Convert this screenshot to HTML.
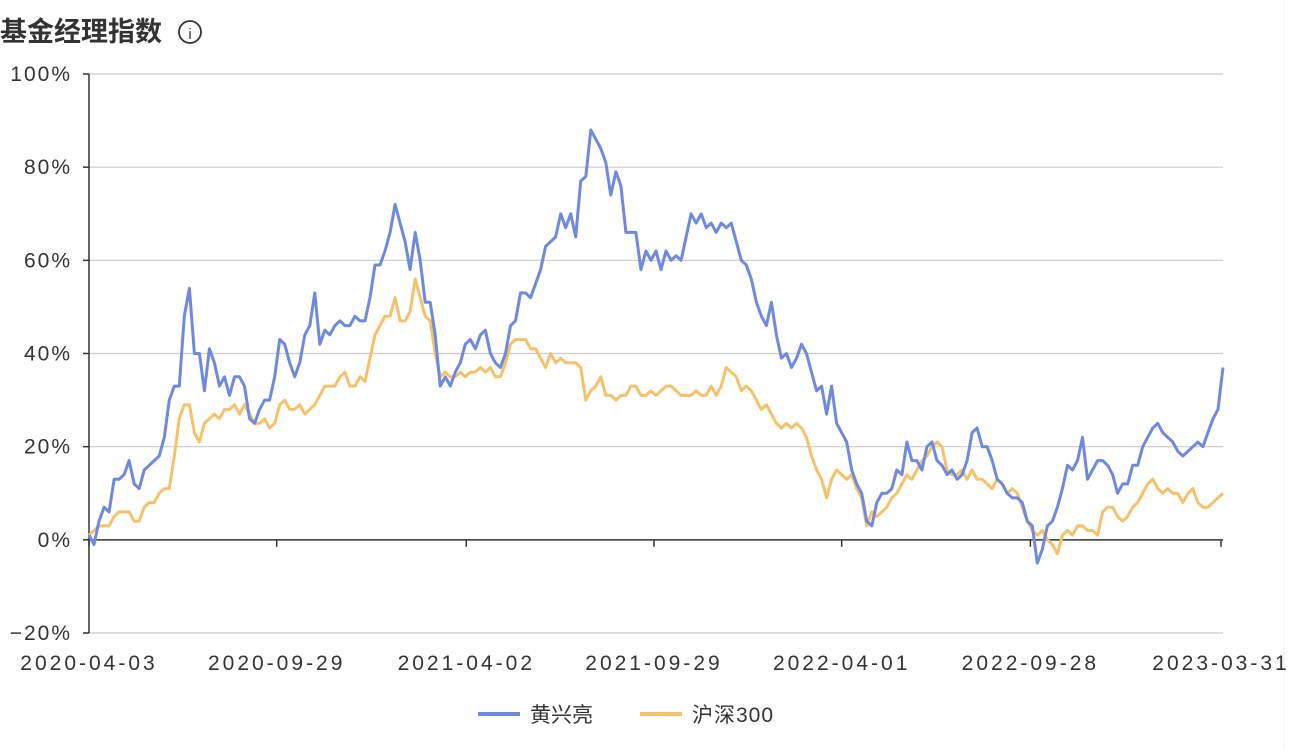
<!DOCTYPE html>
<html><head><meta charset="utf-8">
<style>
body{margin:0;width:1298px;height:748px;background:#fff;overflow:hidden;font-family:"Liberation Sans","Noto Sans CJK SC",sans-serif;}
</style></head>
<body>
<svg id="c" width="1298" height="748" xmlns="http://www.w3.org/2000/svg">
<text x="0" y="41" font-size="27" font-weight="bold" fill="#333" font-family="Liberation Sans, Noto Sans CJK SC, sans-serif">基金经理指数</text>
<g><circle cx="190" cy="32" r="11" fill="none" stroke="#333" stroke-width="1.8"/><text x="190" y="39" font-size="15" text-anchor="middle" fill="#333">i</text></g>
<line x1="1284" y1="0" x2="1284" y2="748" stroke="#eee"/>
<g id="grid"></g><g id="axes"></g><g id="series"></g>
<g>
<g><line x1="478" y1="714" x2="520" y2="714" stroke="#7089e0" stroke-width="4"/><text x="530" y="722" font-size="21" fill="#333">黄兴亮</text></g>
<g><line x1="640" y1="714" x2="682" y2="714" stroke="#f5c26b" stroke-width="4"/><text x="692" y="722" font-size="21" letter-spacing="1" fill="#333">沪深300</text></g>
</g>
</svg>
<script>
const yTicks=[100,80,60,40,20,0,-20];
const xTickLabels=["2020-04-03","2020-09-29","2021-04-02","2021-09-29","2022-04-01","2022-09-28","2023-03-31"];
const xTickFrac=[0,0.1658,0.3333,0.4991,0.6649,0.8316,1];
const huang=[1,-1,4,7,6,13,13,14,17,12,11,15,16,17,18,22,30,33,33,48,54,40,40,32,41,38,33,35,31,35,35,33,26,25,28,30,30,35,43,42,38,35,38,44,46,53,42,45,44,46,47,46,46,48,47,47,52,59,59,62,66,72,68,64,58,66,60,51,51,44,33,35,33,36,38,42,43,41,44,45,40,38,37,40,46,47,53,53,52,55,58,63,64,65,70,67,70,65,77,78,88,86,84,81,74,79,76,66,66,66,58,62,60,62,58,62,60,61,60,65,70,68,70,67,68,66,68,67,68,64,60,59,56,51,48,46,51,44,39,40,37,39,42,40,36,32,33,27,33,25,23,21,15,12,10,4,3,8,10,10,11,15,14,21,17,17,15,20,21,17,16,14,15,13,14,17,23,24,20,20,17,13,12,10,9,9,8,4,3,-5,-2,3,4,7,11,16,15,17,22,13,15,17,17,16,14,10,12,12,16,16,20,22,24,25,23,22,21,19,18,19,20,21,20,23,26,28,37];
const csi300=[1,2,3,3,3,5,6,6,6,4,4,7,8,8,10,11,11,18,26,29,29,23,21,25,26,27,26,28,28,29,27,29,27,25,25,26,24,25,29,30,28,28,29,27,28,29,31,33,33,33,35,36,33,33,35,34,39,44,46,48,48,52,47,47,49,56,52,48,47,40,35,36,35,35,36,35,36,36,37,36,37,35,35,38,42,43,43,43,41,41,39,37,40,38,39,38,38,38,37,30,32,33,35,31,31,30,31,31,33,33,31,31,32,31,32,33,33,32,31,31,31,32,31,31,33,31,33,37,36,35,32,33,32,30,28,29,27,25,24,25,24,25,24,22,18,15,13,9,13,15,14,13,14,11,9,3,6,5,6,7,9,10,12,14,13,15,17,18,20,21,20,15,14,14,15,13,15,13,13,12,11,13,12,10,11,10,7,4,2,1,2,0,-1,-3,1,2,1,3,3,2,2,1,6,7,7,5,4,5,7,8,10,12,13,11,10,11,10,10,8,10,11,8,7,7,8,9,10];
const NS="http://www.w3.org/2000/svg";
const X0=89,X1=1223,Ytop=74,Ybot=633;
const yS=v=>Ytop+(100-v)/120*(Ybot-Ytop);
const xS=(i,n)=>X0+i/(n-1)*(X1-X0);
function mk(t,a,p){const e=document.createElementNS(NS,t);for(const k in a)e.setAttribute(k,a[k]);p.appendChild(e);return e;}
const grid=document.getElementById('grid'),axes=document.getElementById('axes'),ser=document.getElementById('series');
yTicks.forEach(v=>{
 const y=yS(v);
 if(v!==0){const g=mk('line',{x1:X0,x2:X1,y1:y,y2:y,stroke:'#ccc','stroke-width':1.2},grid);
 
 }
 mk('line',{x1:X0-6,x2:X0,y1:y,y2:y,stroke:'#333','stroke-width':1.5},axes);
 const t=mk('text',{x:72,y:y+7,'font-size':21,'letter-spacing':2,'text-anchor':'end',fill:'#333'},axes);
 t.textContent=(v<0?'\u2212'+(-v):v)+'%';
 
 
});
const ya=mk('line',{x1:X0,x2:X0,y1:Ytop,y2:Ybot,stroke:'#333','stroke-width':1.5},axes);


const y0=yS(0);
const xa=mk('line',{x1:X0,x2:X1,y1:y0,y2:y0,stroke:'#333','stroke-width':1.5},axes);


xTickLabels.forEach((l,i)=>{
 const x=X0+xTickFrac[i]*(X1-X0-2);
 mk('line',{x1:x,x2:x,y1:y0,y2:y0+7,stroke:'#333','stroke-width':1.5},axes);
 const t=mk('text',{x:x,y:670,'font-size':21,'letter-spacing':3,'text-anchor':'middle',fill:'#333'},axes);
 t.textContent=l;
 
 
});
function line(d,c,name){
 const pts=d.map((v,i)=>xS(i,d.length).toFixed(1)+','+yS(v).toFixed(1)).join(' ');
 const p=mk('polyline',{points:pts,fill:'none',stroke:c,'stroke-width':3,'stroke-linejoin':'round'},ser);
 
 
}
line(csi300,'#f5c26b','csi300-line');
line(huang,'#7089e0','huang-line');
</script>
</body></html>
